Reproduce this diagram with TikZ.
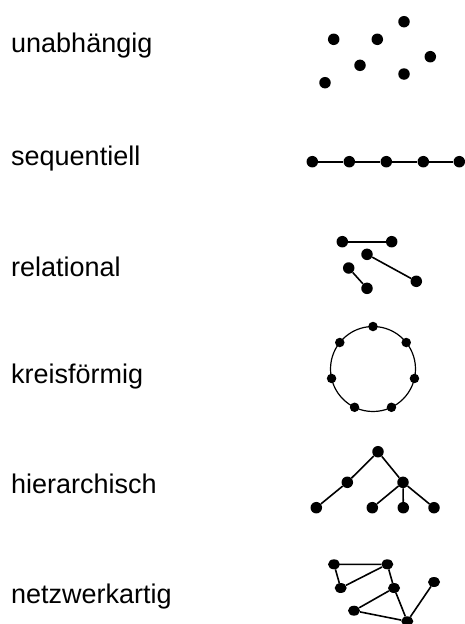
\documentclass[tikz,border=0pt]{standalone}
\usepackage{fontspec}
\setmainfont{Liberation Sans}
\usepackage{tikz}
\usetikzlibrary{shapes.geometric}

\begin{document}
\begin{tikzpicture}[x=1pt, y=-1pt,
    dot/.style={circle, fill, inner sep=0pt, minimum size=11.5pt},
    ringdot/.style={circle, fill, inner sep=0pt, minimum size=9.5pt},
    netdot/.style={ellipse, fill, inner sep=0pt, minimum width=12pt, minimum height=10pt},
    lbl/.style={anchor=base west, inner sep=0pt, font=\fontsize{27}{32}\selectfont},
    link/.style={line width=1.6pt}]
    \useasboundingbox (0,0) rectangle (465,624);

    % labels
    \node[lbl] (unabh) at (11,52.5) {unabhängig};
    \node[lbl] (seq) at (11,165) {sequentiell};
    \node[lbl] (rel) at (11,276) {relational};
    \node[lbl] (kreis) at (11,383.5) {kreisförmig};
    \node[lbl] (hier) at (11,493.5) {hierarchisch};
    \node[lbl] (netz) at (11,603.5) {netzwerkartig};

    % unabhaengig
    \node[dot] (u1) at (333.7,39.3) {};
    \node[dot] (u2) at (377.3,39.3) {};
    \node[dot] (u3) at (404,21.7) {};
    \node[dot] (u4) at (430.3,56.7) {};
    \node[dot] (u5) at (360,65.3) {};
    \node[dot] (u6) at (404,74) {};
    \node[dot] (u7) at (325,82.7) {};

    % sequentiell
    \foreach \i/\x in {1/312.3, 2/349.3, 3/386.3, 4/423.3, 5/459.3}
        \node[dot] (s\i) at (\x,161.7) {};
    \draw[link] (s1) -- (s2) -- (s3) -- (s4) -- (s5);

    % relational
    \node[dot] (r1) at (342.3,241.7) {};
    \node[dot] (r2) at (391.7,241.7) {};
    \node[dot] (r3) at (367,254.3) {};
    \node[dot] (r4) at (416.3,281.3) {};
    \node[dot] (r5) at (348.7,268) {};
    \node[dot] (r6) at (367,288.3) {};
    \draw[link] (r1) -- (r2);
    \draw[link] (r3) -- (r4);
    \draw[link] (r5) -- (r6);

    % kreisfoermig
    \coordinate (kc) at (373,369);
    \draw[line width=1.2pt] (kc) circle[radius=42.5];
    \foreach \i in {0,...,6}
        \node[ringdot] (k\i) at ([shift={(-90+\i*51.43:42.5)}]kc) {};

    % hierarchisch
    \node[dot] (h0) at (378,451.7) {};
    \node[dot] (h1) at (347.3,482.3) {};
    \node[dot] (h2) at (403,482.3) {};
    \node[dot] (h3) at (316.3,507.7) {};
    \node[dot] (h4) at (372.3,507.7) {};
    \node[dot] (h5) at (403.3,507.7) {};
    \node[dot] (h6) at (434,507.7) {};
    \draw[link] (h3) -- (h1) -- (h0) -- (h2) -- (h4);
    \draw[link] (h2) -- (h5);
    \draw[link] (h2) -- (h6);

    % netzwerkartig
    \node[netdot] (n1) at (334,564.3) {};
    \node[netdot] (n2) at (387.3,564.3) {};
    \node[netdot] (n3) at (340.7,588) {};
    \node[netdot] (n4) at (394,588) {};
    \node[netdot] (n5) at (434,582) {};
    \node[netdot] (n6) at (354,610.7) {};
    \node[netdot] (n7) at (407.3,621.3) {};
    \draw[link] (n3) -- (n1) -- (n2) -- (n3);
    \draw[link] (n2) -- (n4) -- (n6) -- (n7) -- (n4);
    \draw[link] (n7) -- (n5);
\end{tikzpicture}
\end{document}
